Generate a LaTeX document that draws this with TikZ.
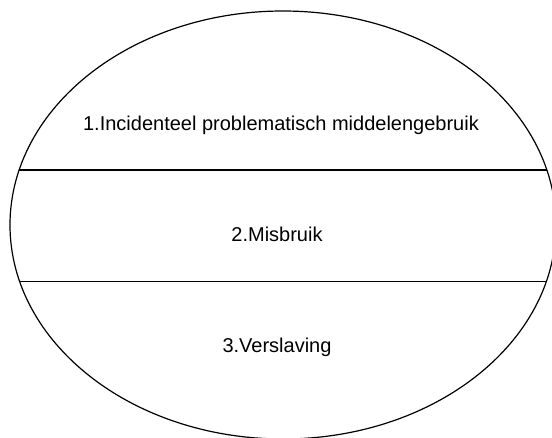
\documentclass[tikz,border=0pt]{standalone}
\usepackage{fontspec}
\setmainfont{Liberation Sans}
\usepackage{tikz}
\usetikzlibrary{shapes,calc}

\begin{document}
\begin{tikzpicture}[x=1pt,y=-1pt,line width=1.2pt,
                    stage node/.style={anchor=base,font=\fontsize{20}{24}\selectfont}]

  \useasboundingbox (0,0) rectangle (552,437);
  \clip (0,0) rectangle (552,437);

  \node[ellipse,draw,minimum width=546pt,minimum height=428pt,inner sep=0pt] (ovaal) at (283,225) {};

  \coordinate (l1) at ($(283,225)+(194.9:273 and 214)$);
  \coordinate (r1) at ($(283,225)+(-14.9:273 and 214)$);
  \coordinate (l2) at ($(283,225)+(164.6:273 and 214)$);
  \coordinate (r2) at ($(283,225)+(15.4:273 and 214)$);

  \node[stage node] (gebruik) at (281,130) {1.Incidenteel problematisch middelengebruik};
  \node[stage node] (misbruik) at (277,241.7) {2.Misbruik};
  \node[stage node] (verslaving) at (277,352) {3.Verslaving};

  \draw (l1) -- (r1);
  \draw (l2) -- (r2);
\end{tikzpicture}
\end{document}
